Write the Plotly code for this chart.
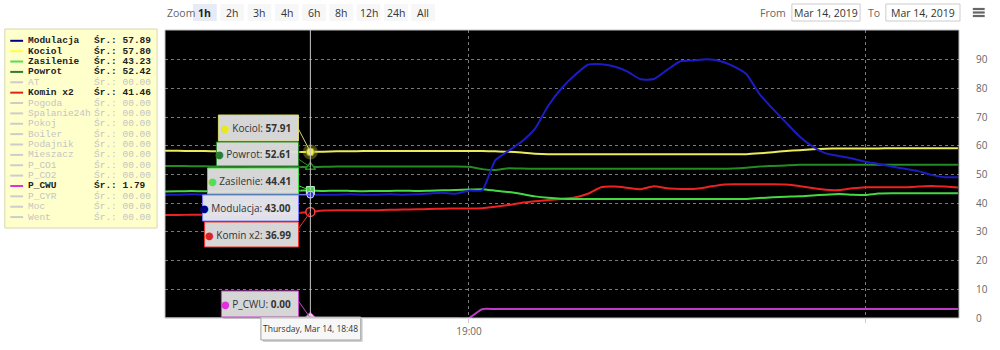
import plotly.graph_objects as go

# ---------------- data ----------------
DAY = "2019-03-14 "
times = ["18:37", "18:38", "18:39", "18:40", "18:41", "18:42", "18:43", "18:44", "18:45", "18:46",
         "18:47", "18:48", "18:49", "18:50", "18:51", "18:52", "18:53", "18:54", "18:55", "18:56",
         "18:57", "18:58", "18:59", "19:00", "19:01", "19:02", "19:03", "19:04", "19:05", "19:06",
         "19:07", "19:08", "19:09", "19:10", "19:11", "19:12", "19:13", "19:14", "19:15", "19:16",
         "19:17", "19:18", "19:19", "19:20", "19:21", "19:22", "19:23", "19:24", "19:25", "19:26",
         "19:27", "19:28", "19:29", "19:30", "19:31", "19:32", "19:33", "19:34", "19:35", "19:36",
         "19:37"]

modulacja = [43.0, 43.0, 43.1, 43.0, 43.0, 42.9, 43.0, 43.0, 43.1, 43.0,
             43.0, 43.00, 43.0, 43.0, 43.1, 43.0, 43.0, 43.1, 43.0, 43.1,
             43.4, 43.7, 43.3, 44.4, 44.5, 55.0, 58.3, 61.5, 66.0, 74.0,
             80.0, 84.6, 88.3, 88.5, 87.7, 85.9, 83.2, 83.3, 86.5, 89.5,
             89.8, 90.2, 89.6, 87.8, 85.0, 78.0, 72.9, 68.1, 63.4, 59.8,
             57.4, 56.5, 55.6, 54.5, 53.7, 52.8, 52.0, 51.2, 49.9, 49.1,
             49.1]
kociol = [58.3, 58.3, 58.2, 58.2, 58.1, 58.1, 58.0, 58.0, 58.0, 57.9,
          57.9, 57.91, 58.0, 58.1, 58.1, 58.2, 58.2, 58.2, 58.2, 58.2,
          58.2, 58.2, 58.2, 58.2, 58.2, 58.1, 58.0, 57.7, 57.3, 57.1,
          57.1, 57.1, 57.1, 57.1, 57.1, 57.1, 57.1, 57.1, 57.1, 57.1,
          57.1, 57.1, 57.1, 57.1, 57.1, 57.4, 57.8, 58.2, 58.5, 58.8,
          59.0, 59.1, 59.1, 59.1, 59.1, 59.2, 59.2, 59.2, 59.2, 59.2,
          59.2]
zasilenie = [44.1, 44.2, 44.3, 44.2, 44.1, 44.2, 44.3, 44.3, 44.2, 44.3,
             44.4, 44.41, 44.3, 44.4, 44.3, 44.2, 44.3, 44.3, 44.4, 44.3,
             44.4, 44.5, 44.6, 44.8, 44.9, 44.4, 43.9, 43.2, 42.4, 41.9,
             41.6, 41.5, 41.5, 41.5, 41.5, 41.5, 41.5, 41.5, 41.5, 41.5,
             41.5, 41.5, 41.5, 41.5, 41.5, 41.8, 42.1, 42.3, 42.4, 42.7,
             43.0, 43.2, 43.0, 42.9, 43.4, 43.5, 43.5, 43.5, 43.5, 43.5,
             43.5]
powrot = [53.0, 53.0, 52.9, 52.9, 52.8, 52.8, 52.8, 52.7, 52.7, 52.7,
          52.6, 52.61, 52.7, 52.8, 52.8, 52.8, 52.8, 52.8, 52.8, 52.8,
          52.8, 52.8, 52.8, 52.7, 51.9, 51.6, 52.2, 52.1, 52.0, 52.0,
          52.0, 52.0, 52.0, 52.0, 52.0, 52.0, 52.0, 52.0, 52.0, 52.0,
          52.0, 52.0, 52.0, 52.1, 52.4, 52.8, 53.0, 53.2, 53.4, 53.4,
          53.4, 53.4, 53.4, 53.4, 53.4, 53.4, 53.4, 53.4, 53.4, 53.4,
          53.4]
komin_x2 = [35.9, 35.9, 36.0, 36.0, 36.1, 36.1, 36.1, 36.2, 36.2, 36.3,
            36.5, 36.99, 37.5, 37.6, 37.6, 37.6, 37.6, 37.7, 37.8, 37.9,
            38.0, 38.1, 38.2, 38.2, 38.3, 38.8, 39.4, 40.2, 40.7, 41.1,
            41.5, 42.0, 43.3, 45.6, 45.8, 45.4, 44.9, 45.9, 45.2, 45.0,
            45.0, 45.6, 46.4, 46.6, 46.6, 46.6, 46.6, 46.5, 46.0, 45.3,
            44.7, 44.6, 45.2, 45.6, 45.6, 45.6, 45.6, 45.8, 46.0, 45.8,
            45.5]
p_cwu = [0.0, 0.0, 0.0, 0.0, 0.0, 0.0, 0.0, 0.0, 0.0, 0.0,
         0.0, 0.00, 0.0, 0.0, 0.0, 0.0, 0.0, 0.0, 0.0, 0.0,
         0.0, 0.0, 0.0, 0.0, 3.1, 3.1, 3.1, 3.1, 3.1, 3.1,
         3.1, 3.1, 3.1, 3.1, 3.1, 3.1, 3.1, 3.1, 3.1, 3.1,
         3.1, 3.1, 3.1, 3.1, 3.1, 3.1, 3.1, 3.1, 3.1, 3.1,
         3.1, 3.1, 3.1, 3.1, 3.1, 3.1, 3.1, 3.1, 3.1, 3.1,
         3.1]

legend_names = ["Modulacja", "Kociol", "Zasilenie", "Powrot", "AT", "Komin x2", "Pogoda",
                "Spalanie24h", "Pokoj", "Boiler", "Podajnik", "Mieszacz", "P_CO1", "P_CO2",
                "P_CWU", "P_CYR", "Moc", "Went"]
legend_avgs = ["57.89", "57.80", "43.23", "52.42", "00.00", "41.46", "00.00",
               "00.00", "00.00", "00.00", "00.00", "00.00", "00.00", "00.00",
               "1.79", "00.00", "00.00", "00.00"]
legend_active = [True, True, True, True, False, True, False,
                 False, False, False, False, False, False, False,
                 True, False, False, False]

zoom_buttons = ["1h", "2h", "3h", "4h", "6h", "8h", "12h", "24h", "All"]
y_ticks = [0, 10, 20, 30, 40, 50, 60, 70, 80, 90]
x_ticks = ["19:00", "19:30"]
x_tick_text = ["19:00", ""]
hover_time = "18:48"
hover_title = "Thursday, Mar 14, 18:48"
date_from = "Mar 14, 2019"
date_to = "Mar 14, 2019"

# ---------------- styles ----------------
series = [
    # name, values, line colour, legend colour
    ("Modulacja", modulacja, "#1c1cc4", "#000080"),
    ("Kociol", kociol, "#eaea5a", "#ffff40"),
    ("Zasilenie", zasilenie, "#45d845", "#55dd55"),
    ("Powrot", powrot, "#238c23", "#2e7d2e"),
    ("Komin x2", komin_x2, "#ee2222", "#dd2222"),
    ("P_CWU", p_cwu, "#c03cc8", "#e030e0"),
]
line_col = {n: c for n, _, c, _ in series}
leg_col = {n: c for n, _, _, c in series}
values = {n: v for n, v, _, _ in series}

W, H = 1000, 350
L, R, T, B = 165, 968, 30, 318


def px(x):
    return (x - L) / (R - L)


def py(y):
    return (B - y) / (B - T)


UI = "Open Sans, DejaVu Sans, sans-serif"
MONO = "Liberation Mono, Courier New, monospace"

x_dt = [DAY + t for t in times]
hover_dt = DAY + hover_time
hi = times.index(hover_time)

fig = go.Figure()
draw_order = ["P_CWU", "Komin x2", "Zasilenie", "Powrot", "Kociol", "Modulacja"]
for name in draw_order:
    fig.add_trace(go.Scatter(x=x_dt, y=values[name], mode="lines", name=name,
                             line=dict(color=line_col[name], width=2, shape="spline", smoothing=0.5),
                             hoverinfo="skip", showlegend=False, cliponaxis=False))

shapes = []
annotations = []

# crosshair
shapes.append(dict(type="line", xref="x", yref="paper", x0=hover_dt, x1=hover_dt, y0=0, y1=1,
                   line=dict(color="#c8c8c8", width=1), layer="above"))

# hover markers
marker_styles = {
    "Kociol": dict(symbol="circle", size=8, color=line_col["Kociol"], line=dict(color="#9a9a20", width=1)),
    "Powrot": dict(symbol="triangle-up", size=9, color="#000000", line=dict(color=line_col["Powrot"], width=1.5)),
    "Zasilenie": dict(symbol="square", size=8, color=line_col["Zasilenie"], line=dict(color="#c8ffc8", width=1)),
    "Modulacja": dict(symbol="circle", size=7, color="#3030ff", line=dict(color="#d0d0ff", width=1)),
    "Komin x2": dict(symbol="circle", size=9, color="#000000", line=dict(color="#ff4040", width=1.5)),
    "P_CWU": dict(symbol="diamond", size=9, color="#f0d0f0", line=dict(color=line_col["P_CWU"], width=1)),
}
fig.add_trace(go.Scatter(x=[hover_dt], y=[kociol[hi]], mode="markers", showlegend=False,
                         hoverinfo="skip", marker=dict(size=15, color="rgba(200,200,40,0.35)")))
for name, ms in marker_styles.items():
    fig.add_trace(go.Scatter(x=[hover_dt], y=[values[name][hi]], mode="markers", showlegend=False,
                             hoverinfo="skip", marker=ms, cliponaxis=False))

# split tooltips: (name, x0, y0, x1, y1 in px, border colour, callout dy px)
tooltips = [
    ("Kociol", 219, 115, 300, 141, "#d8d870", 23),
    ("Powrot", 217, 142, 300, 166, "#2e8b2e", 8),
    ("Zasilenie", 208, 168, 300, 194, "#44dd44", 5),
    ("Modulacja", 203, 195, 300, 221, "#8080ff", 0),
    ("Komin x2", 205, 222, 300, 247, "#ee3333", -17),
    ("P_CWU", 222, 291, 300, 317, "#cc44cc", 17),
]
for name, x0, y0, x1, y1, bc, dy in tooltips:
    bg = "rgba(236,236,244,0.95)" if name == "Modulacja" else "rgba(226,226,226,0.95)"
    shapes.append(dict(type="rect", xref="paper", yref="paper", x0=px(x0 + 2), x1=px(x1 + 2),
                       y0=py(y1 + 2), y1=py(y0 + 2), fillcolor="rgba(0,0,0,0.25)",
                       line=dict(width=0), layer="above"))
    shapes.append(dict(type="rect", xref="paper", yref="paper", x0=px(x0), x1=px(x1),
                       y0=py(y1), y1=py(y0), fillcolor=bg, line=dict(color=bc, width=1), layer="above"))
    shapes.append(dict(type="line", xref="x", yref="y", xsizemode="pixel", ysizemode="pixel",
                       xanchor=hover_dt, yanchor=values[name][hi], x0=-12, x1=0, y0=dy, y1=0,
                       line=dict(color=bc, width=1), layer="above"))
    annotations.append(dict(
        xref="paper", yref="paper", x=px(x1 - 6), y=py((y0 + y1) / 2), xanchor="right", yanchor="middle",
        showarrow=False,
        text=f"<span style='color:{leg_col[name] if name != 'Kociol' else '#e8e820'}'>●</span> {name}: <b>{values[name][hi]:.2f}</b>",
        font=dict(family=UI, size=10, color="#333333")))

# date tooltip
shapes.append(dict(type="rect", xref="paper", yref="paper", x0=px(264), x1=px(365), y0=py(342), y1=py(319),
                   fillcolor="rgba(0,0,0,0.18)", line=dict(width=0), layer="above"))
shapes.append(dict(type="rect", xref="paper", yref="paper", x0=px(262), x1=px(363), y0=py(340), y1=py(317),
                   fillcolor="#f7f7f7", line=dict(color="#a0a0a0", width=1), layer="above"))
annotations.append(dict(xref="paper", yref="paper", x=px(312.5), y=py(328.5), showarrow=False,
                        text=hover_title, font=dict(family=UI, size=8.5, color="#333333"),
                        xanchor="center", yanchor="middle"))

# legend box (left)
shapes.append(dict(type="rect", xref="paper", yref="paper", x0=px(3), x1=px(157), y0=py(228), y1=py(29),
                   fillcolor="#ffffcc", line=dict(color="#d6d6b0", width=1), layer="above"))
row0, row_h = 40.8, 10.37
for i, (nm, av, act) in enumerate(zip(legend_names, legend_avgs, legend_active)):
    yy = row0 + i * row_h
    col = leg_col.get(nm, "#cccccc") if act else "#cccccc"
    txt = "#222222" if act else "#c4c4c4"
    shapes.append(dict(type="line", xref="paper", yref="paper", x0=px(8.5), x1=px(21.5), y0=py(yy), y1=py(yy),
                       line=dict(color=col, width=2), layer="above"))
    nm_t = f"<b>{nm}</b>" if act else nm
    av_t = f"<b>Śr.: {av}</b>" if act else f"Śr.: {av}"
    annotations.append(dict(xref="paper", yref="paper", x=px(24), y=py(yy), xanchor="left", yanchor="middle",
                            showarrow=False, text=nm_t, font=dict(family=MONO, size=9.5, color=txt)))
    annotations.append(dict(xref="paper", yref="paper", x=px(91), y=py(yy), xanchor="left", yanchor="middle",
                            showarrow=False, text=av_t, font=dict(family=MONO, size=9.5, color=txt)))

# range selector
annotations.append(dict(xref="paper", yref="paper", x=px(165), y=py(12.5), xanchor="left", yanchor="middle",
                        showarrow=False, text="Zoom", font=dict(family=UI, size=10.5, color="#666666")))
for k, b in enumerate(zoom_buttons):
    cx = 205.3 + 27.6 * k
    shapes.append(dict(type="rect", xref="paper", yref="paper", x0=px(cx - 12), x1=px(cx + 12),
                       y0=py(21), y1=py(4), fillcolor="#e6ebf5" if k == 0 else "#f7f7f7",
                       line=dict(width=0), layer="above"))
    annotations.append(dict(xref="paper", yref="paper", x=px(cx), y=py(12.5), xanchor="center", yanchor="middle",
                            showarrow=False, text=f"<b>{b}</b>" if k == 0 else b,
                            font=dict(family=UI, size=10.5, color="#222222" if k == 0 else "#333333")))

# date inputs
annotations.append(dict(xref="paper", yref="paper", x=px(795), y=py(12.5), xanchor="right", yanchor="middle",
                        showarrow=False, text="From", font=dict(family=UI, size=10.5, color="#666666")))
annotations.append(dict(xref="paper", yref="paper", x=px(890), y=py(12.5), xanchor="right", yanchor="middle",
                        showarrow=False, text="To", font=dict(family=UI, size=10.5, color="#666666")))
for (a, b2, txt_) in [(799, 868, date_from), (894, 969, date_to)]:
    shapes.append(dict(type="rect", xref="paper", yref="paper", x0=px(a), x1=px(b2), y0=py(21), y1=py(4),
                       fillcolor="#ffffff", line=dict(color="#cccccc", width=1), layer="above"))
    annotations.append(dict(xref="paper", yref="paper", x=px((a + b2) / 2), y=py(12.5), xanchor="center",
                            yanchor="middle", showarrow=False, text=txt_,
                            font=dict(family=UI, size=10.5, color="#333333")))
# export menu icon
for yy in (9, 12.5, 16):
    shapes.append(dict(type="line", xref="paper", yref="paper", x0=px(982), x1=px(994), y0=py(yy), y1=py(yy),
                       line=dict(color="#666666", width=2.2), layer="above"))

# plot frame
shapes.append(dict(type="rect", xref="paper", yref="paper", x0=0, x1=1, y0=0, y1=1,
                   line=dict(color="#c0c0c0", width=1), layer="above"))

fig.update_layout(
    width=W, height=H,
    margin=dict(l=L, r=W - R, t=T, b=H - B, pad=0),
    paper_bgcolor="#ffffff", plot_bgcolor="#000000",
    showlegend=False,
    shapes=shapes, annotations=annotations,
    xaxis=dict(type="date", range=[DAY + "18:37:00", DAY + "19:37:05"],
               tickvals=[DAY + t for t in x_ticks], ticktext=x_tick_text,
               showgrid=True, gridcolor="#7a7a7a", griddash="dot", gridwidth=1,
               ticks="outside", ticklen=4, tickcolor="#cccccc",
               tickfont=dict(family=UI, size=10, color="#666666"),
               showline=False, zeroline=False, fixedrange=True),
    yaxis=dict(range=[0, 100.4], side="right", tickvals=y_ticks,
               showgrid=True, gridcolor="#7a7a7a", griddash="dot", gridwidth=1,
               tickfont=dict(family=UI, size=10, color="#666666"),
               ticklabelstandoff=16, zeroline=False, showline=False, fixedrange=True),
)

fig.write_html("out.html")
